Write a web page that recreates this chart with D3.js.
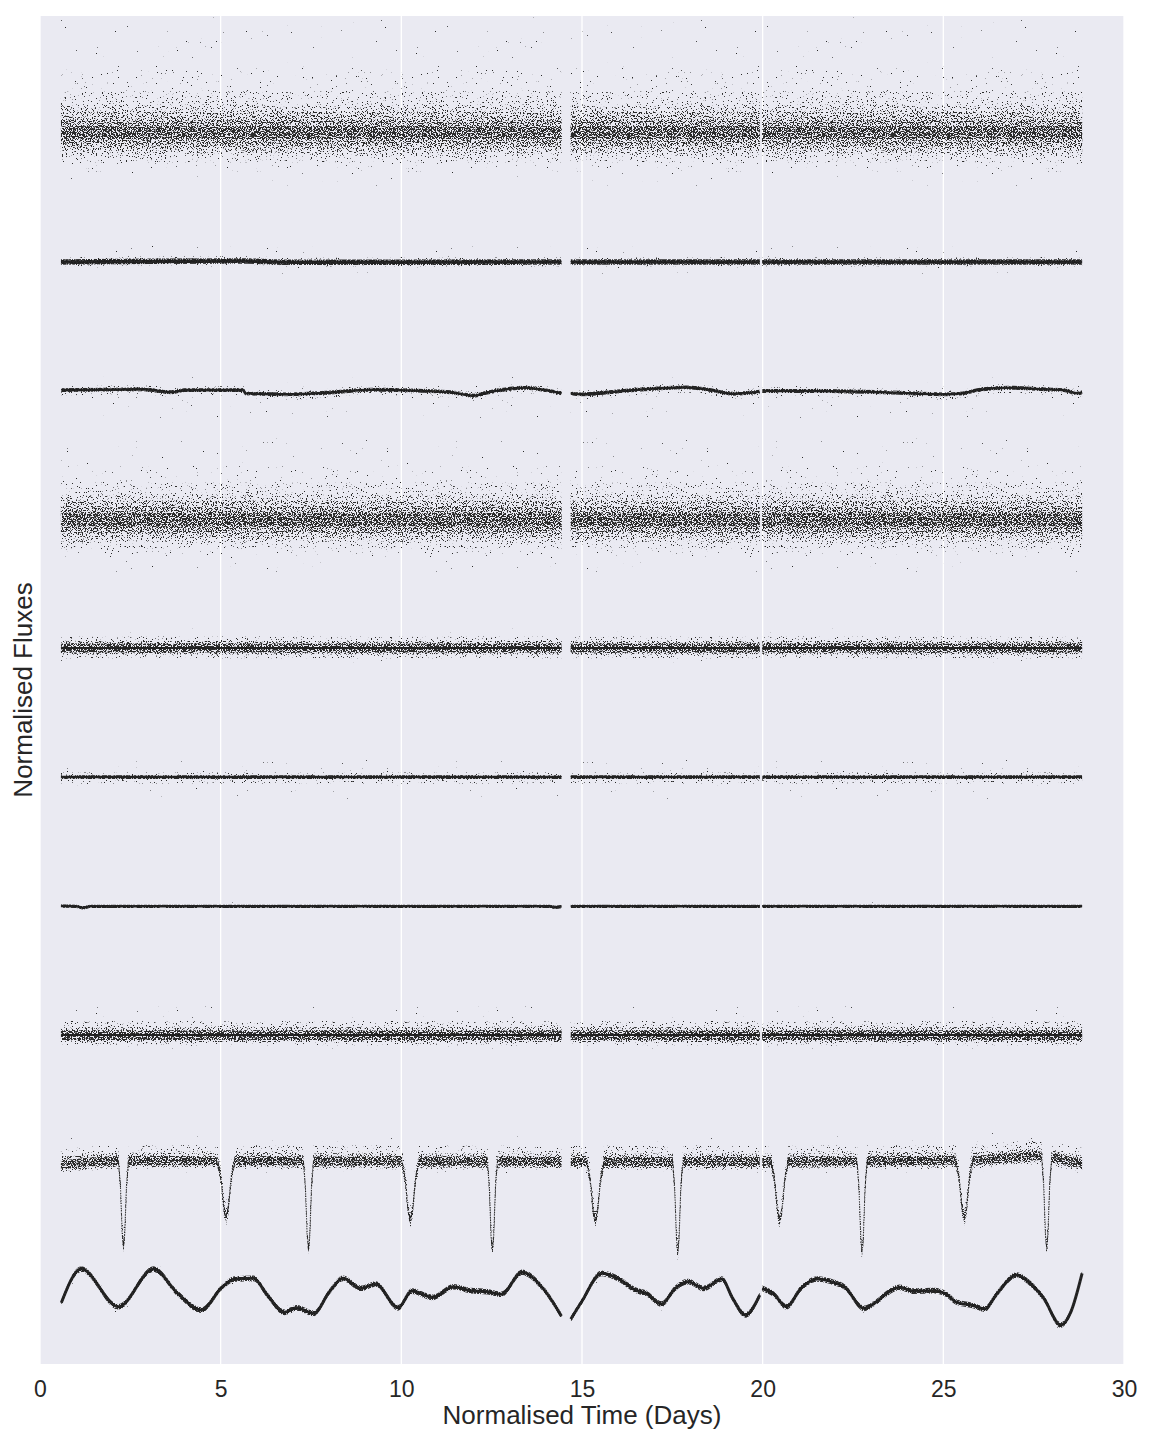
<!DOCTYPE html>
<html>
<head>
<meta charset="utf-8">
<script src="https://cdn.jsdelivr.net/npm/d3@7"></script>
<style>
  body { margin: 0; background: #fff; }
  svg { display: block; font-family: "Liberation Sans", Arial, sans-serif; }
</style>
</head>
<body>
<div id="chart"></div>
<script>
// Observing windows (days); the gaps show up as breaks in every curve.
const segments = [[0.58, 14.43], [14.69, 19.92], [19.99, 28.84]];
const xTicks = [0, 5, 10, 15, 20, 25, 30];

// Vertical offset of each light curve, top to bottom (normalised flux units).
const offsets = [9, 8, 7, 6, 5, 4, 3, 2, 1, 0];

// Trend of each curve: [time, deviation from its offset].
const trend1 = [[0.58, 0], [14.43, 0], [14.69, 0], [19.92, 0], [19.99, 0], [28.84, 0]];
const trend2 = [[0.58, -0.006], [5.5, 0.002], [7, -0.008], [14.43, -0.006], [14.69, -0.006],
  [19.92, -0.006], [19.99, -0.006], [28.84, -0.006]];
const trend3 = [[0.59, -0.002], [2.87, 0.004], [3.65, -0.019], [4.01, -0.002], [5.63, -0.002],
  [5.68, -0.027], [6.92, -0.035], [7.91, -0.023], [9.19, 0.001], [9.88, -0.002], [11.37, -0.019],
  [12.01, -0.046], [12.35, -0.023], [13.44, 0.016], [13.84, 0.004], [14.43, -0.027],
  [14.69, -0.027], [14.99, -0.035], [15.89, -0.015], [17.18, 0.012], [17.88, 0.019],
  [18.57, -0.002], [19.17, -0.030], [19.92, -0.015],
  [19.99, -0.009], [21.36, -0.009], [23.35, -0.019], [25.04, -0.035], [25.54, -0.027],
  [25.94, -0.002], [26.83, 0.016], [27.83, 0.004], [28.33, -0.002], [28.73, -0.027], [28.84, -0.019]];
const trend4 = [[0.58, -0.012], [14.43, -0.012], [14.69, -0.012], [19.92, -0.012], [19.99, -0.012], [28.84, -0.012]];
const trend5 = [[0.58, -0.008], [14.43, -0.008], [14.69, -0.008], [19.92, -0.008], [19.99, -0.008], [28.84, -0.008]];
const trend6 = [[0.58, -0.011], [14.43, -0.011], [14.69, -0.011], [19.92, -0.011], [19.99, -0.011], [28.84, -0.011]];
const trend7 = [[0.58, -0.014], [1.0, -0.016], [1.19, -0.027], [1.4, -0.016], [14.1, -0.016],
  [14.25, -0.024], [14.43, -0.018], [14.69, -0.016], [19.92, -0.016], [19.99, -0.016], [28.84, -0.016]];
const trend8 = [[0.58, -0.017], [14.43, -0.017], [14.69, -0.017], [19.92, -0.017], [19.99, -0.017], [28.84, -0.017]];

// Eclipsing binary: out-of-eclipse level plus eclipses.
const base9 = [[0.58, -0.025], [1.6, 0.0], [2.1, 0.008], [14.43, 0.0], [14.69, 0.0], [19.92, 0.0],
  [19.99, 0.0], [25.9, 0.01], [27.6, 0.045], [28.05, 0.03], [28.84, -0.015]];
const eclipseTimes = [2.31, 5.15, 7.43, 10.25, 12.52, 15.37, 17.65, 20.47, 22.75, 25.58, 27.86];
const eclipseDepths = [-0.67, -0.44, -0.69, -0.46, -0.69, -0.46, -0.71, -0.46, -0.71, -0.45, -0.71];
const eclipseHalfWidths = [0.14, 0.24, 0.14, 0.24, 0.14, 0.24, 0.14, 0.24, 0.14, 0.24, 0.14];
// Eclipse shape: [fraction of half-width, fraction of depth].
const eclipseProfile = [[-1, 0], [-0.6, 0.3], [-0.25, 0.85], [0, 1], [0.25, 0.85], [0.6, 0.3], [1, 0]];

// Spotted star, bottom curve.
const trend10 = [[0.59, -0.099], [1.14, 0.163], [2.17, -0.130], [3.14, 0.163], [3.81, -0.026],
  [4.46, -0.156], [5.05, 0.026], [5.39, 0.086], [5.91, 0.091], [6.29, -0.039], [6.77, -0.173],
  [7.10, -0.138], [7.58, -0.181], [8.01, -0.013], [8.39, 0.091], [8.88, 0.013], [9.29, 0.047],
  [9.91, -0.138], [10.29, -0.008], [10.87, -0.057], [11.44, 0.026], [11.91, -0.005], [12.39, -0.013],
  [12.77, -0.033], [13.34, 0.138], [13.92, 0.013], [14.43, -0.202],
  [14.69, -0.226], [14.99, -0.091], [15.54, 0.130], [15.99, 0.091], [16.48, 0.0], [16.78, -0.026],
  [17.20, -0.109], [17.58, 0.013], [17.93, 0.065], [18.37, 0.013], [18.87, 0.086], [19.17, -0.065],
  [19.52, -0.194], [19.92, -0.039],
  [19.99, 0.013], [20.31, -0.033], [20.66, -0.130], [21.06, 0.013], [21.51, 0.086], [21.96, 0.060],
  [22.26, 0.026], [22.80, -0.142], [23.15, -0.091], [23.40, -0.033], [23.80, 0.021], [24.15, -0.008],
  [24.74, -0.005], [25.09, -0.033], [25.34, -0.091], [25.84, -0.122], [26.14, -0.148], [26.49, -0.026],
  [27.03, 0.117], [27.33, 0.070], [27.78, -0.065], [28.25, -0.272], [28.53, -0.169], [28.84, 0.130]];

// Scatter envelopes round each trend: [below, above, density level].
const spread1 = [[-0.05, 0.05, 'core'], [-0.1, 0.1, 'dense'], [-0.14, 0.16, 'mid'], [-0.18, 0.22, 'light'],
  [-0.23, 0.32, 'sparse'], [-0.3, 0.5, 'trace'], [-0.42, 0.9, 'rare']];
const spread2 = [[-0.022, 0.022, 'core'], [-0.032, 0.036, 'sparse'], [-0.1, 0.12, 'rare']];
const spread3 = [[-0.015, 0.015, 'core'], [-0.04, 0.03, 'sparse'], [-0.22, 0.1, 'rare']];
const spread4 = [[-0.05, 0.05, 'core'], [-0.1, 0.1, 'dense'], [-0.13, 0.15, 'mid'], [-0.17, 0.2, 'light'],
  [-0.22, 0.29, 'sparse'], [-0.28, 0.42, 'trace'], [-0.4, 0.64, 'rare']];
const spread5 = [[-0.035, 0.035, 'core'], [-0.05, 0.055, 'mid'], [-0.08, 0.09, 'sparse'], [-0.12, 0.15, 'rare']];
const spread6 = [[-0.015, 0.015, 'core'], [-0.05, 0.035, 'sparse'], [-0.18, 0.14, 'rare']];
const spread7 = [[-0.013, 0.013, 'core'], [-0.03, 0.03, 'rare']];
const spread8 = [[-0.038, 0.038, 'core'], [-0.055, 0.06, 'mid'], [-0.08, 0.11, 'sparse'], [-0.11, 0.25, 'rare']];
const spread9 = [[-0.035, 0.035, 'core'], [-0.05, 0.06, 'mid'], [-0.065, 0.12, 'sparse'], [-0.09, 0.2, 'rare']];
const spread10 = [[-0.022, 0.022, 'core'], [-0.05, 0.05, 'rare']];

// ---- build the eclipse curve from its parts
const baseLevel = d3.scaleLinear().domain(base9.map((d) => d[0])).range(base9.map((d) => d[1]));
const trend9 = base9.concat(eclipseTimes.flatMap((t, i) => eclipseProfile.map(([f, g]) => {
  const tt = t + f * eclipseHalfWidths[i];
  return [tt, baseLevel(tt) + g * eclipseDepths[i]];
}))).sort((a, b) => a[0] - b[0]);

const curves = [
  { trend: trend1, spread: spread1, stroke: 0 },
  { trend: trend2, spread: spread2, stroke: 3.4 },
  { trend: trend3, spread: spread3, stroke: 2.6 },
  { trend: trend4, spread: spread4, stroke: 0 },
  { trend: trend5, spread: spread5, stroke: 2 },
  { trend: trend6, spread: spread6, stroke: 2.4 },
  { trend: trend7, spread: spread7, stroke: 2.6 },
  { trend: trend8, spread: spread8, stroke: 2 },
  { trend: trend9, spread: spread9, stroke: 1.1, dotted: true, linear: true },
  { trend: trend10, spread: spread10, stroke: 3 },
];

// ---- layout
const width = 1152, height = 1440;
const margin = { top: 16, right: 28, bottom: 76, left: 40 };
const x = d3.scaleLinear().domain([0, 30]).range([margin.left, width - margin.right]);
const y = d3.scaleLinear().domain([-0.575, 9.907]).range([height - margin.bottom, margin.top]);

const svg = d3.select('#chart').append('svg')
  .attr('width', width).attr('height', height)
  .attr('viewBox', `0 0 ${width} ${height}`);

// speckle filters: procedural noise thresholded inside each envelope
const levels = { core: 0.45, dense: 0.51, mid: 0.565, light: 0.615, sparse: 0.67, trace: 0.74, rare: 0.80 };
const defs = svg.append('defs');
const k = 22;
Object.entries(levels).forEach(([name, t]) => {
  const f = defs.append('filter').attr('id', `speckle-${name}`)
    .attr('color-interpolation-filters', 'sRGB');
  f.append('feTurbulence').attr('type', 'fractalNoise').attr('baseFrequency', 0.8)
    .attr('numOctaves', 2).attr('seed', 7).attr('result', 'noise');
  f.append('feColorMatrix').attr('in', 'noise').attr('type', 'matrix')
    .attr('values', `0 0 0 0 0.17  0 0 0 0 0.17  0 0 0 0 0.17  ${k} 0 0 0 ${-k * t}`)
    .attr('result', 'dots');
  f.append('feComposite').attr('in', 'dots').attr('in2', 'SourceGraphic').attr('operator', 'in');
});

// panel
svg.append('rect')
  .attr('x', margin.left).attr('y', margin.top)
  .attr('width', x(30) - x(0)).attr('height', y.range()[0] - y.range()[1])
  .attr('fill', '#eaeaf2');

svg.append('g').selectAll('line').data(xTicks).join('line')
  .attr('x1', (d) => x(d)).attr('x2', (d) => x(d))
  .attr('y1', margin.top).attr('y2', height - margin.bottom)
  .attr('stroke', '#fff').attr('stroke-width', 1.3);

const plot = svg.append('g');

curves.forEach((c, i) => {
  const off = offsets[i];
  const shape = c.linear ? d3.curveLinear : d3.curveMonotoneX;
  segments.forEach(([s, e]) => {
    const pts = c.trend.filter((d) => d[0] >= s - 1e-6 && d[0] <= e + 1e-6);
    if (pts.length < 2) return;
    c.spread.forEach(([lo, hi, lvl]) => {
      const area = d3.area().curve(shape)
        .x((d) => x(d[0]))
        .y0((d) => y(off + d[1] + lo))
        .y1((d) => y(off + d[1] + hi));
      plot.append('path').attr('d', area(pts))
        .attr('fill', '#000').attr('filter', `url(#speckle-${lvl})`);
    });
    if (c.stroke) {
      const line = d3.line().curve(shape).x((d) => x(d[0])).y((d) => y(off + d[1]));
      plot.append('path').attr('d', line(pts))
        .attr('fill', 'none').attr('stroke', '#1e1e1e')
        .attr('stroke-width', c.stroke)
        .attr('stroke-dasharray', c.dotted ? '1.3 1.2' : null)
        .attr('opacity', c.dotted ? 0.85 : 0.95);
    }
  });
});

// x axis: labels only
const ax = svg.append('g')
  .attr('transform', `translate(0,${height - margin.bottom})`)
  .call(d3.axisBottom(x).tickValues(xTicks).tickSize(0).tickPadding(17).tickFormat(d3.format('d')));
ax.select('.domain').remove();
ax.selectAll('text').attr('font-size', 23).attr('fill', '#262626')
  .attr('font-family', '"Liberation Sans", Arial, sans-serif');

svg.append('text')
  .attr('x', (x(0) + x(30)) / 2).attr('y', 1424)
  .attr('text-anchor', 'middle').attr('font-size', 26).attr('fill', '#262626')
  .text('Normalised Time (Days)');

svg.append('text')
  .attr('transform', `translate(32,${(margin.top + height - margin.bottom) / 2}) rotate(-90)`)
  .attr('text-anchor', 'middle').attr('font-size', 26).attr('fill', '#262626')
  .text('Normalised Fluxes');
</script>
</body>
</html>
